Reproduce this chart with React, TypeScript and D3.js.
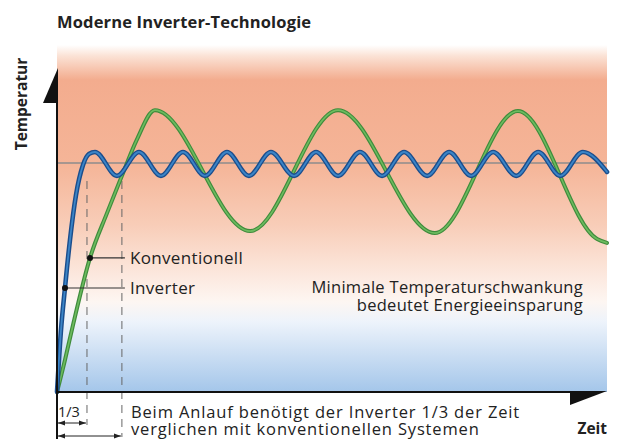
import React from 'react';
import * as d3 from 'd3';

// time (0..100) and temperature (0..100, setpoint 70)
const inverterTime = [0, 0.73, 1.45, 2.36, 3.45, 4.73, 5.82, 6.91, 10.9, 14.9, 18.9, 22.9, 26.9, 30.9, 34.9, 38.9, 43.1, 47.1, 51.1, 55.1, 59.1, 63.1, 67.3, 71.3, 75.3, 79.3, 83.5, 87.5, 91.5, 95.6, 100];
const inverterTemp = [0, 19.0, 31.8, 46.5, 60.2, 69.4, 72.8, 73.4, 66.1, 73.4, 66.1, 73.4, 66.1, 73.4, 66.1, 73.4, 66.1, 73.4, 66.1, 73.4, 66.1, 73.4, 66.1, 73.4, 66.1, 73.4, 66.1, 73.4, 66.1, 73.4, 67.3];

const conventionalTime = [0, 1.45, 2.91, 6.0, 9.09, 11.8, 14.5, 17.8, 35.1, 51.1, 68.7, 83.8, 98.2, 100];
const conventionalTemp = [0, 9.8, 20.5, 41.0, 54.7, 66.1, 77.1, 86.2, 49.2, 86.2, 48.6, 85.9, 46.8, 45.6];

const setpoint = 70;
const inverterReach = 5.45;
const conventionalReach = 11.8;
const inverterMarkIdx = 2;
const conventionalMarkIdx = 3;

const labels = {
  title: 'Moderne Inverter-Technologie',
  yAxis: 'Temperatur',
  xAxis: 'Zeit',
  conventional: 'Konventionell',
  inverter: 'Inverter',
  note1: 'Minimale Temperaturschwankung',
  note2: 'bedeutet Energieeinsparung',
  foot1: 'Beim Anlauf benötigt der Inverter 1/3 der Zeit',
  foot2: 'verglichen mit konventionellen Systemen',
  third: '1/3',
};

const width = 619;
const height = 439;
const font = "'Open Sans', 'DejaVu Sans', sans-serif";
const ink = '#222';

export default function App() {
  const x = d3.scaleLinear().domain([0, 100]).range([57, 607]);
  const y = d3.scaleLinear().domain([0, 100]).range([392, 65]);

  const line = d3
    .line<[number, number]>()
    .x(d => x(d[0]))
    .y(d => y(d[1]))
    .curve(d3.curveMonotoneX);

  const inv = inverterTime.map((t, i) => [t, inverterTemp[i]] as [number, number]);
  const conv = conventionalTime.map((t, i) => [t, conventionalTemp[i]] as [number, number]);

  const x0 = x(0);
  const y0 = y(0);
  const invMark = inv[inverterMarkIdx];
  const convMark = conv[conventionalMarkIdx];
  const labelX = x(conventionalReach) + 8;

  const bgStops: [number, string][] = [
    [45, '#ffffff'],
    [56, '#fbe2d5'],
    [80, '#f3ac8e'],
    [165, '#f5b598'],
    [225, '#f8cdb8'],
    [275, '#fce8de'],
    [302, '#fdf6f2'],
    [322, '#edf3fb'],
    [392, '#a4c6ea'],
  ];

  return (
    <svg width={width} height={height} style={{ position: 'absolute', left: 0, top: 0 }} fontFamily={font}>
      <defs>
        <linearGradient id="bg" gradientUnits="userSpaceOnUse" x1={0} x2={0} y1={45} y2={392}>
          {bgStops.map(([py, c], i) => (
            <stop key={i} offset={(py - 45) / (392 - 45)} stopColor={c} />
          ))}
        </linearGradient>
        <marker id="ah" viewBox="0 0 10 10" refX={10} refY={5} markerWidth={7} markerHeight={7} orient="auto-start-reverse" markerUnits="userSpaceOnUse">
          <path d="M0,1.5 L10,5 L0,8.5 Z" fill={ink} />
        </marker>
      </defs>

      <rect x={x0} y={45} width={x(100) - x0} height={y0 - 45} fill="url(#bg)" />

      <text x={57} y={28} fontSize={16.5} fontWeight={700} letterSpacing={0.15} fill={ink}>{labels.title}</text>

      {/* setpoint */}
      <line x1={x0} x2={x(100)} y1={y(setpoint)} y2={y(setpoint)} stroke="#8c8c8c" strokeWidth={1.5} />

      {/* dashed guides */}
      <line x1={x(inverterReach)} x2={x(inverterReach)} y1={181} y2={425} stroke="#666" strokeWidth={1} strokeDasharray="8,6" />
      <line x1={x(conventionalReach)} x2={x(conventionalReach)} y1={181} y2={437} stroke="#666" strokeWidth={1} strokeDasharray="8,6" />

      {/* curves */}
      <path d={line(conv) || ''} fill="none" stroke="#3f8c3c" strokeWidth={4} strokeLinecap="round" />
      <path d={line(conv) || ''} fill="none" stroke="#6dbb5f" strokeWidth={1.6} strokeLinecap="round" />
      <path d={line(inv) || ''} fill="none" stroke="#1b4d8c" strokeWidth={4.6} strokeLinecap="round" />
      <path d={line(inv) || ''} fill="none" stroke="#3b84c6" strokeWidth={1.8} strokeLinecap="round" />

      {/* axes */}
      <line x1={x0} x2={x0} y1={100} y2={height} stroke="#111" strokeWidth={2} />
      <path d={`M${x0 + 1},68 L43,103 L${x0 + 1},103 Z`} fill="#111" />
      <line x1={x0} x2={572} y1={y0} y2={y0} stroke="#111" strokeWidth={2} />
      <path d={`M570,${y0 - 1} L607,${y0 - 1} L570,${y0 + 13} Z`} fill="#111" />

      <text transform={`translate(27,104) rotate(-90)`} textAnchor="middle" fontSize={15.5} fontWeight={700} fill={ink}>{labels.yAxis}</text>
      <text x={607} y={434} textAnchor="end" fontSize={15.5} fontWeight={700} fill={ink}>{labels.xAxis}</text>

      {/* series labels */}
      <line x1={x(convMark[0])} x2={labelX - 5} y1={y(convMark[1])} y2={y(convMark[1])} stroke="#333" strokeWidth={1.2} />
      <circle cx={x(convMark[0])} cy={y(convMark[1])} r={3} fill="#111" />
      <text x={labelX} y={y(convMark[1]) + 6} fontSize={17} letterSpacing={0.35} fill={ink}>{labels.conventional}</text>

      <line x1={x(invMark[0])} x2={labelX - 5} y1={y(invMark[1])} y2={y(invMark[1])} stroke="#333" strokeWidth={1.2} />
      <circle cx={x(invMark[0])} cy={y(invMark[1])} r={3} fill="#111" />
      <text x={labelX} y={y(invMark[1]) + 6} fontSize={17} letterSpacing={0.35} fill={ink}>{labels.inverter}</text>

      <text x={583} y={293} textAnchor="end" fontSize={16.5} letterSpacing={0.3} fill={ink}>{labels.note1}</text>
      <text x={583} y={311} textAnchor="end" fontSize={16.5} letterSpacing={0.3} fill={ink}>{labels.note2}</text>

      {/* footnote */}
      <text x={58} y={417} fontSize={14.5} fill={ink}>{labels.third}</text>
      <line x1={x0 + 1} x2={x(inverterReach) - 1} y1={423} y2={423} stroke={ink} strokeWidth={1} markerStart="url(#ah)" markerEnd="url(#ah)" />
      <line x1={x0 + 1} x2={x(conventionalReach) - 1} y1={436} y2={436} stroke={ink} strokeWidth={1} markerStart="url(#ah)" markerEnd="url(#ah)" />
      <text x={131} y={418} fontSize={16.5} letterSpacing={0.85} fill={ink}>{labels.foot1}</text>
      <text x={131} y={435} fontSize={16.5} letterSpacing={0.85} fill={ink}>{labels.foot2}</text>
    </svg>
  );
}
